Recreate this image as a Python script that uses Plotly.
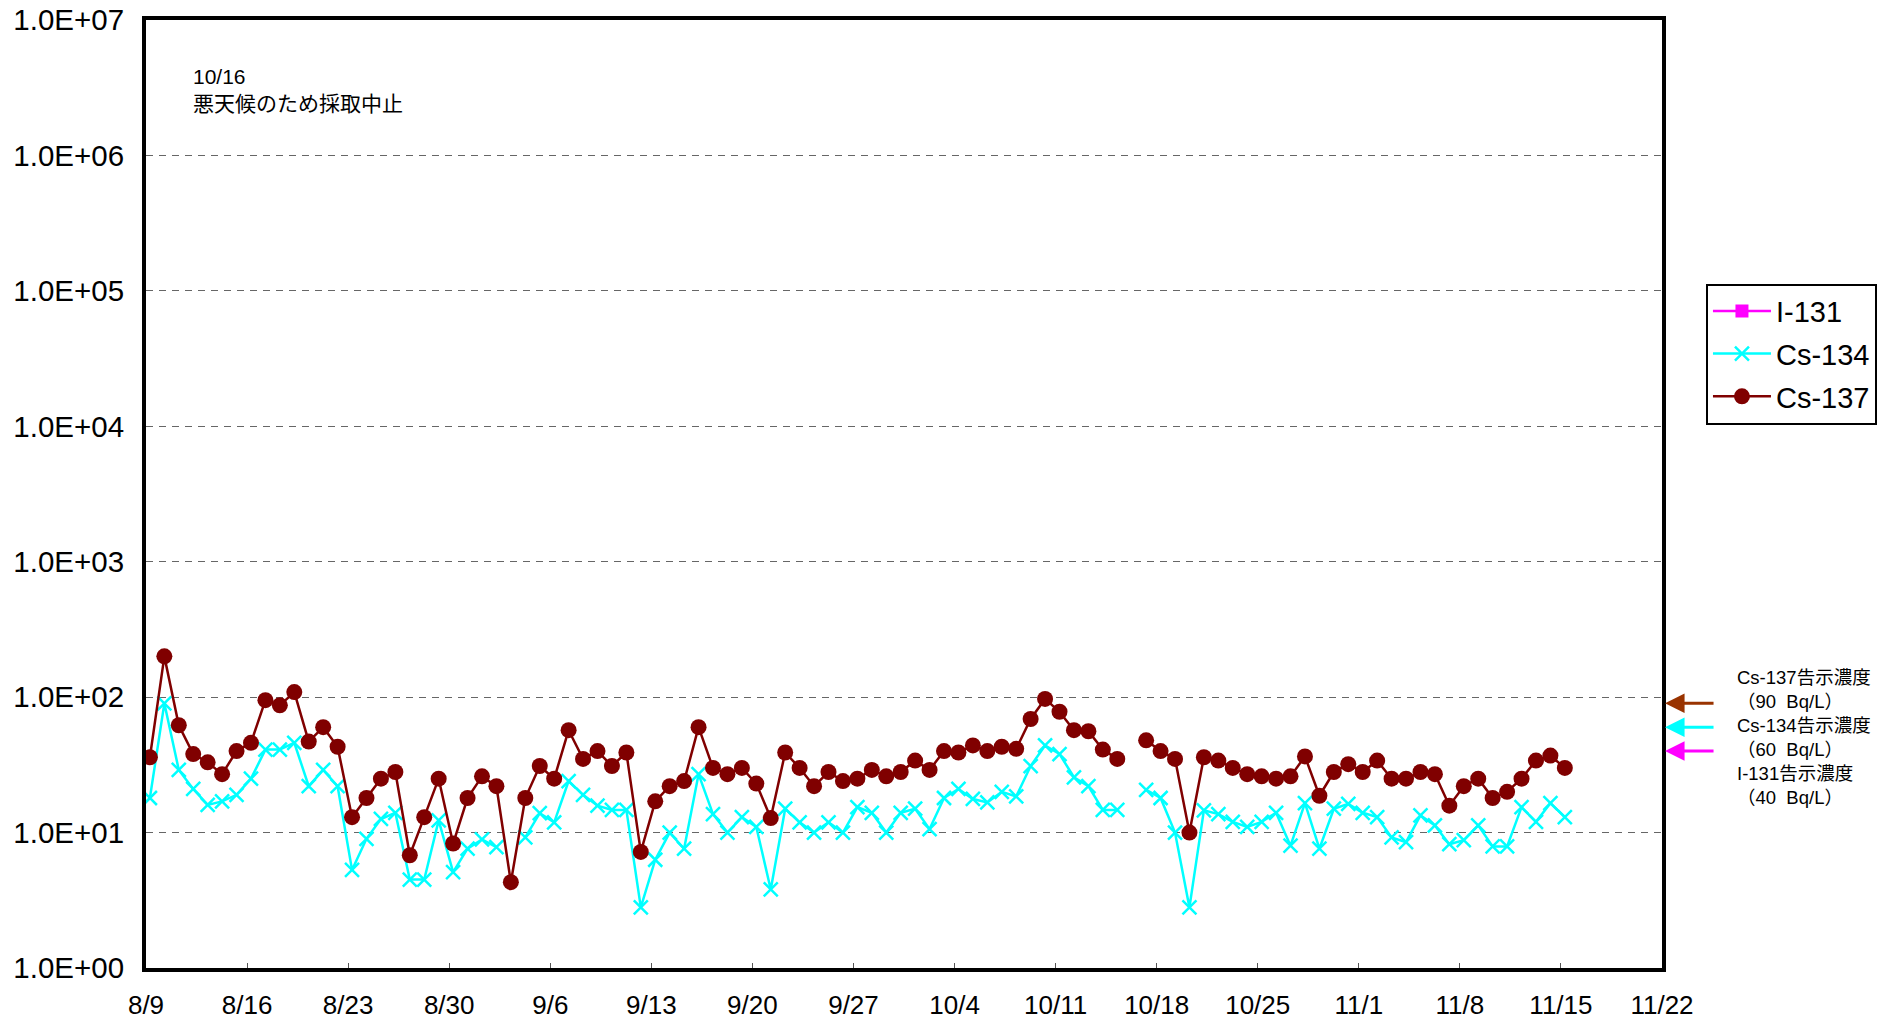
import plotly.graph_objects as go
import pandas as pd
import math

# ---- data ----
start = "2011-08-08 06:30"
n_days = 100
dates = pd.date_range(start, periods=n_days, freq="D")

i131 = [None] * n_days  # not detected throughout

cs134 = [14, 18, 90, 29, 21, 16, 17, 19, 25, 41, 41, 46, 22, 29, 22, 5.3, 9.0, 12.6, 14, 4.5,
         4.5, 12.3, 5.1, 7.6, 8.9, 7.8, None, 9.2, 13.9, 11.9, 24, 19, 15.8, 14.7, 14.7, 2.8,
         6.3, 10, 7.6, 27, 13.7, 10, 13, 11, 3.8, 15, 11.9, 10, 11.9, 10, 15.4, 14, 10, 14,
         15, 10.6, 18, 21, 17.7, 16.7, 20, 18.5, 31, 44, 38, 25.6, 22, 14.7, 14.7, None,
         20.7, 18, 10, 2.8, 14.6, 13.7, 12, 11, 12, 14, 8.0, 16.5, 7.6, 15, 16.3, 14, 13,
         9.2, 8.5, 13.4, 11.3, 8.2, 8.8, 11.3, 7.9, 7.9, 15.4, 12, 16.5, 13]

cs137 = [28, 36, 200, 62, 38, 33, 27, 40, 46, 95, 87, 109, 47, 60, 43, 13, 18, 25, 28, 6.8,
         13, 25, 8.3, 18, 26, 22, 4.3, 18, 31, 25, 57, 35, 40, 31, 39, 7.2, 17, 22, 24, 60,
         30, 27, 30, 23, 12.8, 39, 30, 22, 28, 24, 25, 29, 26, 28, 34, 29, 40, 39, 44, 40,
         43, 41.5, 69, 97, 78, 57, 56, 41, 35, None, 48, 40, 35, 10, 36, 34, 30, 27, 26, 25,
         26, 36.5, 18.7, 28, 32, 28, 34, 25, 25, 28, 27, 15.8, 22, 25, 18, 20, 25, 34, 37, 30]

limit_names = ["Cs-137", "Cs-134", "I-131"]
limit_values = [90, 60, 40]
limit_colors = ["#993300", "#00FFFF", "#FF00FF"]

y_tickvals = [1, 10, 100, 1000, 10000, 100000, 1000000, 10000000]
y_ticktext = ["1.0E+00", "1.0E+01", "1.0E+02", "1.0E+03", "1.0E+04", "1.0E+05", "1.0E+06", "1.0E+07"]

x_start = "2011-08-09"
x_end = "2011-11-22"

FONT = "Liberation Sans, Arial, Noto Sans CJK JP, sans-serif"

fig = go.Figure()
fig.add_trace(go.Scatter(
    x=dates, y=i131, name="I-131", mode="lines+markers", legendgroup="a",
    line=dict(color="#FF00FF", width=2.5),
    marker=dict(symbol="square", size=13, color="#FF00FF"),
))
fig.add_trace(go.Scatter(
    x=dates, y=cs134, name="Cs-134", mode="lines+markers", legendgroup="b",
    line=dict(color="#00FFFF", width=2.5),
    marker=dict(symbol="x-thin", size=14, color="#00FFFF",
                line=dict(color="#00FFFF", width=2.5)),
))
fig.add_trace(go.Scatter(
    x=dates, y=cs137, name="Cs-137", mode="lines+markers", legendgroup="c",
    line=dict(color="#800000", width=2.5),
    marker=dict(symbol="circle", size=16, color="#800000"),
))

annotations = [
    dict(xref="paper", yref="paper", x=0.030, y=0.955, xanchor="left", yanchor="top",
         text="10/16<br>悪天候のため採取中止", showarrow=False, align="left",
         font=dict(size=21, color="black", family=FONT)),
    dict(xref="paper", yref="paper", x=1.048, y=0.2431, xanchor="left", yanchor="middle",
         text="<br>".join([f"{n}告示濃度<br>（{v}  Bq/L）" for n, v in zip(limit_names, limit_values)]),
         showarrow=False, align="left",
         font=dict(size=18.5, color="black", family=FONT)),
]
for v, c in zip(limit_values, limit_colors):
    annotations.append(dict(
        xref="paper", yref="y", x=1.002, y=math.log10(v), text="",
        showarrow=True, ax=50, ay=0, axref="pixel", ayref="pixel",
        arrowhead=2, arrowsize=1.3, arrowwidth=3, arrowcolor=c, standoff=0,
    ))

fig.update_layout(
    width=1894, height=1024,
    margin=dict(l=146, r=232, t=20, b=56, autoexpand=False),
    paper_bgcolor="white", plot_bgcolor="white",
    font=dict(family=FONT, color="black"),
    showlegend=True,
    legend=dict(
        x=1.029, y=0.722, xanchor="left", yanchor="top",
        bordercolor="black", borderwidth=2, bgcolor="white",
        font=dict(size=29, family=FONT, color="black"),
        itemwidth=58, tracegroupgap=2,
    ),
    annotations=annotations,
)
fig.update_xaxes(
    type="date", range=[x_start, x_end], automargin=False,
    tick0=x_start, dtick=7 * 86400000, tickformat="%-m/%-d",
    ticks="inside", ticklen=5, tickcolor="#555", tickwidth=1,
    showgrid=False, zeroline=False,
    showline=True, linecolor="black", linewidth=4, mirror=True,
    tickfont=dict(size=26, family=FONT, color="black"),
    ticklabelstandoff=11,
)
fig.update_yaxes(
    type="log", range=[0, 7], automargin=False,
    tickvals=y_tickvals, ticktext=y_ticktext,
    ticks="", showgrid=True, gridcolor="#666", gridwidth=1, griddash="7px,6px",
    zeroline=False,
    showline=True, linecolor="black", linewidth=4, mirror=True,
    tickfont=dict(size=29.5, family=FONT, color="black"),
    ticklabelstandoff=12,
)

fig.write_html(
    "out.html",
    config={"displayModeBar": False},
    post_script="document.body.style.margin='0';document.body.style.overflow='hidden';",
)
